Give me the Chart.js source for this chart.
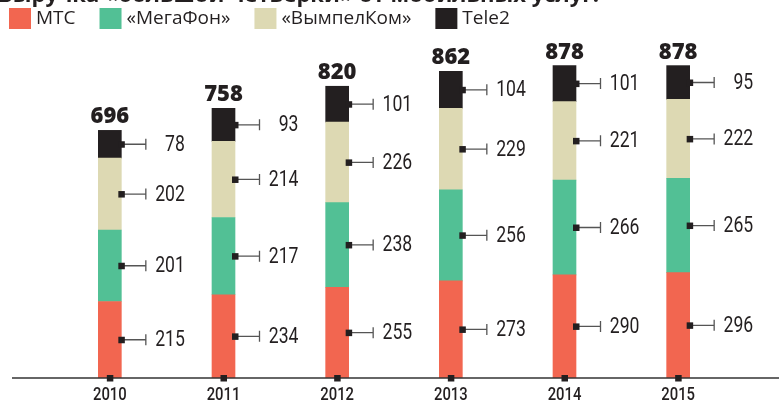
<!DOCTYPE html>
<html>
<head>
<meta charset="utf-8">
<script src="https://cdn.jsdelivr.net/npm/chart.js@4.4.1/dist/chart.umd.min.js"></script>
<style>
  html, body { margin: 0; padding: 0; background: #fff; }
  #wrap { width: 779px; height: 403px; position: relative; }
</style>
</head>
<body>
<div id="wrap"><canvas id="revenueChart"></canvas></div>
<script>
const title = 'Выручка «большой четвёрки» от мобильных услуг:';
const years = ['2010', '2011', '2012', '2013', '2014', '2015'];
const seriesNames = ['МТС', '«МегаФон»', '«ВымпелКом»', 'Tele2'];
const mts = [215, 234, 255, 273, 290, 296];
const megafon = [201, 217, 238, 256, 266, 265];
const vimpelcom = [202, 214, 226, 229, 221, 222];
const tele2 = [78, 93, 101, 104, 101, 95];
const totals = [696, 758, 820, 862, 878, 878];
const colors = ['#f26650', '#52c095', '#ddd9b3', '#231f20'];

const dark = '#231f20';

// text squeezed horizontally, the original uses a condensed face
function squeezed(ctx, text, x, y, sx) {
    ctx.save();
    ctx.translate(x, y);
    ctx.scale(sx, 1);
    ctx.fillText(text, 0, 0);
    ctx.restore();
}

// labels, totals, axis, legend and the clipped title
const annotations = {
    id: 'annotations',
    afterDatasetsDraw(chart) {
        const ctx = chart.ctx;
        const yScale = chart.scales.y;
        const base = yScale.getPixelForValue(0);
        ctx.save();

        // title, cut off at the top of the picture
        ctx.fillStyle = dark;
        ctx.font = 'bold 22px "Open Sans", sans-serif';
        ctx.textAlign = 'left';
        ctx.textBaseline = 'alphabetic';
        ctx.fillText(title, -2, 1.5);

        // legend
        ctx.font = '19px "Open Sans", sans-serif';
        ctx.textBaseline = 'middle';
        let lx = 9;
        seriesNames.forEach((name, i) => {
            ctx.fillStyle = colors[i];
            ctx.fillRect(lx, 8, 22, 21);
            ctx.fillStyle = dark;
            ctx.fillText(name, lx + 27, 19);
            lx += 27 + ctx.measureText(name).width + 24;
        });

        // segment value labels
        chart.data.datasets.forEach((ds, i) => {
            const meta = chart.getDatasetMeta(i);
            meta.data.forEach((bar, j) => {
                const mid = (bar.y + bar.base) / 2;
                const edge = bar.x + bar.width / 2;
                ctx.strokeStyle = '#555';
                ctx.lineWidth = 1.3;
                ctx.beginPath();
                ctx.moveTo(edge, mid);
                ctx.lineTo(bar.x + 36, mid);
                ctx.moveTo(bar.x + 36, mid - 5.5);
                ctx.lineTo(bar.x + 36, mid + 5.5);
                ctx.stroke();
                ctx.fillStyle = dark;
                ctx.fillRect(edge - 3, mid - 3, 6.5, 6.5);
                ctx.font = '22px Roboto, sans-serif';
                ctx.textAlign = 'right';
                ctx.textBaseline = 'middle';
                squeezed(ctx, String(ds.data[j]), bar.x + 75, mid + 1, 0.8);
            });
        });

        // totals above bars
        const topMeta = chart.getDatasetMeta(chart.data.datasets.length - 1);
        topMeta.data.forEach((bar, j) => {
            ctx.fillStyle = dark;
            ctx.font = '800 22px "Open Sans", sans-serif';
            ctx.textAlign = 'center';
            ctx.textBaseline = 'alphabetic';
            ctx.fillText(totals[j], bar.x, bar.y - 7);
        });

        // baseline axis with tick squares and years
        ctx.strokeStyle = '#333';
        ctx.lineWidth = 1.5;
        ctx.beginPath();
        ctx.moveTo(12, base);
        ctx.lineTo(779, base);
        ctx.stroke();
        topMeta.data.forEach((bar, j) => {
            ctx.fillStyle = dark;
            ctx.fillRect(bar.x - 3, base - 3, 6.5, 6.5);
            ctx.font = '500 19px Roboto, sans-serif';
            ctx.textAlign = 'center';
            ctx.textBaseline = 'alphabetic';
            squeezed(ctx, years[j], bar.x, base + 22, 0.78);
        });
        ctx.restore();
    }
};

const ctx = document.getElementById('revenueChart').getContext('2d');
new Chart(ctx, {
    type: 'bar',
    data: {
        labels: years,
        datasets: [mts, megafon, vimpelcom, tele2].map((values, i) => ({
            label: seriesNames[i],
            data: values,
            backgroundColor: colors[i],
            borderWidth: 0,
            barThickness: 23
        }))
    },
    options: {
        responsive: true,
        maintainAspectRatio: false,
        animation: false,
        layout: {
            padding: { left: 53, right: 44, top: 40, bottom: 25 }
        },
        plugins: {
            legend: { display: false },
            tooltip: { enabled: false }
        },
        scales: {
            x: { stacked: true, display: false },
            y: { stacked: true, display: false, min: 0, max: 950 }
        }
    },
    plugins: [annotations]
});
</script>
</body>
</html>
